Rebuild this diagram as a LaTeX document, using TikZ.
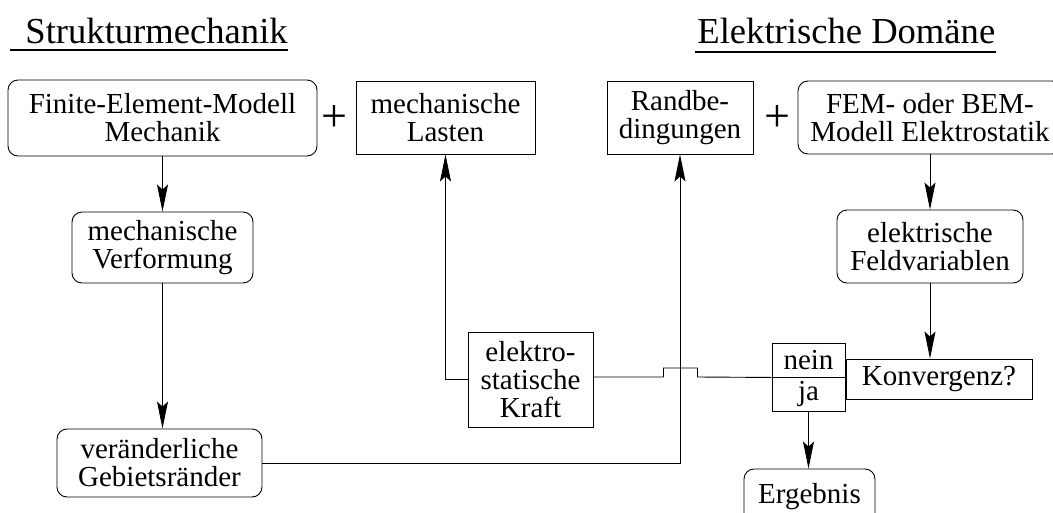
\documentclass[tikz,border=0pt]{standalone}
\usepackage{fontspec}
\setmainfont{Liberation Serif}
\usetikzlibrary{arrows.meta}
\begin{document}
\begin{tikzpicture}[x=1pt,y=-1pt,line width=0.9pt,
  every node/.style={font=\fontsize{29}{28}\selectfont,inner sep=0pt},
  box/.style={draw,align=center},
  rbox/.style={draw,align=center,rounded corners=10pt},
  titletext/.style={font=\fontsize{36.6}{40}\selectfont,anchor=base west},
  plustext/.style={font=\fontsize{46}{46}\selectfont},
  arr/.style={-{Stealth[length=27pt,width=11pt,inset=5pt]}}]
\useasboundingbox (0,0) rectangle (1053,512);
% titles
\node[titletext] (t1) at (25,43) {Strukturmechanik};
\node[titletext] (t2) at (697,43) {Elektrische Domäne};
\draw[line width=1.1pt] ([xshift=-15pt,yshift=-7pt]t1.base west) -- ([yshift=-7pt]t1.base east);
\draw[line width=1.1pt] ([xshift=-2pt,yshift=-9pt]t2.base west) -- ([yshift=-9pt]t2.base east);
% top row
\node[rbox,minimum width=309pt,minimum height=76pt] (femm) at (162.5,118) {Finite-Element-Modell\\Mechanik};
\node[plustext] (p1) at (334,119) {+};
\node[box,minimum width=179pt,minimum height=73pt] (lasten) at (445.5,117.5) {mechanische\\Lasten};
\node[box,minimum width=146pt,minimum height=73pt] (rand) at (680,117.5) {Randbe-\\dingungen};
\node[plustext] (p2) at (777,119) {+};
\node[rbox,minimum width=264pt,minimum height=73pt] (feme) at (930,117.5) {FEM- oder BEM-\\Modell Elektrostatik};
% second row
\node[rbox,minimum width=181pt,minimum height=71pt] (verf) at (162.5,247.5) {mechanische\\Verformung};
\node[rbox,minimum width=186pt,minimum height=73pt] (feld) at (930,246.5) {elektrische\\Feldvariablen};
% middle
\node[box,minimum width=125pt,minimum height=95pt] (kraft) at (530.5,379.5) {elektro-\\statische\\Kraft};
\node[box,minimum width=73pt,minimum height=34pt] (nein) at (808.5,360) {nein};
\node[box,minimum width=73pt,minimum height=34pt] (ja) at (808.5,394) {ja};
\node[box,minimum width=186pt,minimum height=40pt] (konv) at (939,379) {Konvergenz?};
% bottom
\node[rbox,minimum width=205pt,minimum height=68pt] (verand) at (159.5,463) {veränderliche\\Gebietsränder};
\node[rbox,minimum width=131pt,minimum height=56pt] (erg) at (809.5,497) {Ergebnis};
% connectors
\draw[arr] (femm.south) -- (verf.north);
\draw[arr] (verf.south) -- (verf.south |- verand.north);
\draw[arr] (feld.north |- feme.south) -- (feld.north);
\draw[arr] (feld.south) -- (feld.south |- konv.north);
\draw[arr] (verand.east) -| (rand.south);
\draw[arr] (kraft.west) -| (lasten.south);
\draw ([yshift=2.5pt]kraft.east) -- ++(70,0) -- ++(0,-9) -- ++(34,0) -- ++(0,9) -- (nein.south west);
\draw[arr] (ja.south) -- (ja.south |- erg.north);
\end{tikzpicture}
\end{document}
